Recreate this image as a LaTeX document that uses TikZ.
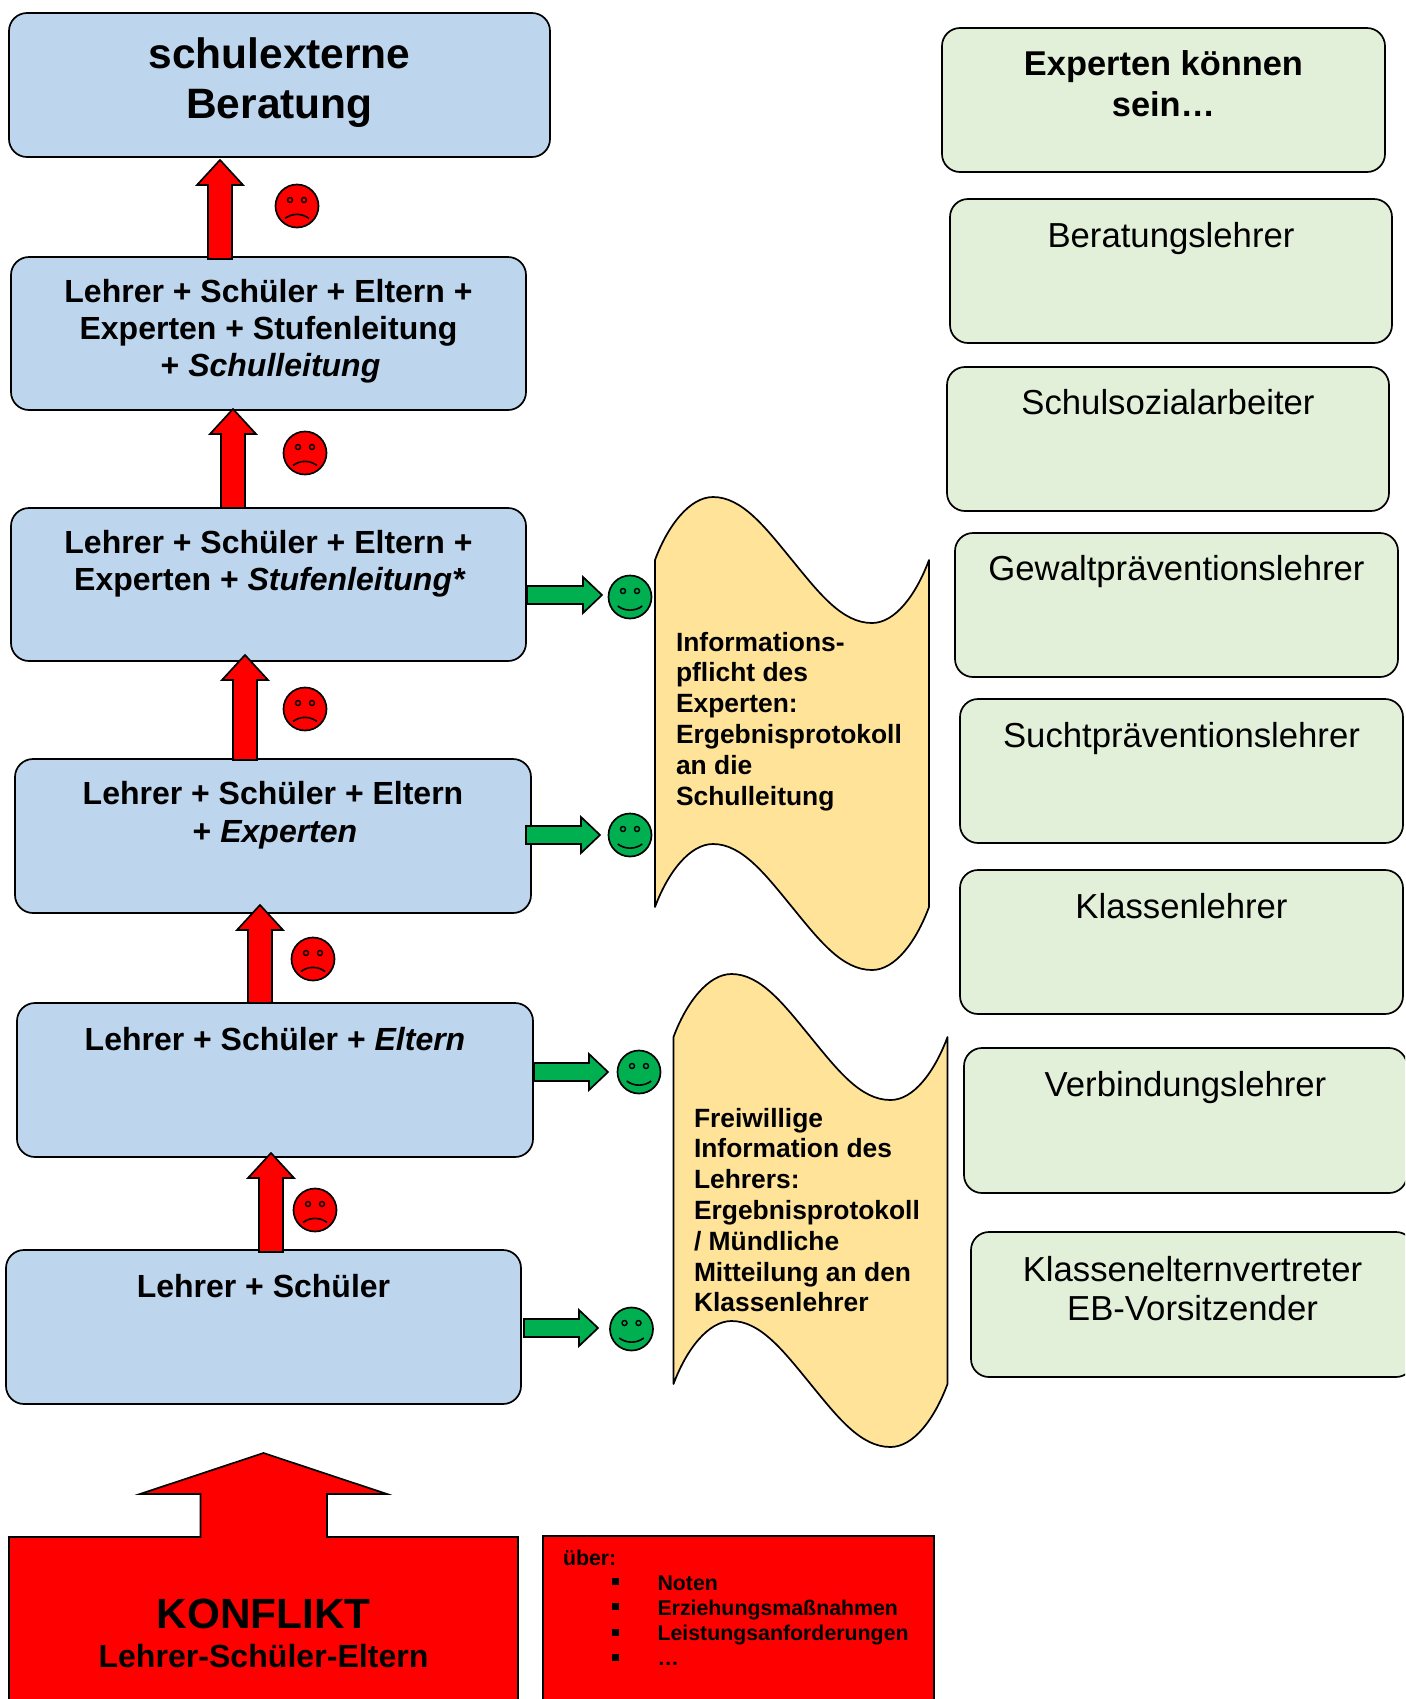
\documentclass[tikz,border=0pt]{standalone}
\usepackage{fontspec}
\setmainfont{Liberation Sans}
\usetikzlibrary{calc}
\definecolor{boxblue}{HTML}{BDD5ED}
\definecolor{boxgreen}{HTML}{E2EFD9}
\definecolor{waveyellow}{HTML}{FFE399}
\definecolor{happygreen}{HTML}{00B050}
\newcommand\pxl[1]{\dimexpr #1pt/2\relax}
% box content: width, height, first baseline from the top, text
\newcommand\bx[4]{\parbox[c][\pxl{#2}][t]{\pxl{#1}}{\centering\rule{0pt}{\pxl{#3}}#4}}
\newcommand\lbx[4]{\parbox[c][\pxl{#2}][t]{\pxl{#1}}{\raggedright\rule{0pt}{\pxl{#3}}#4}}
\newcommand\redup[5]{% from node, to node, x, dy at start, dy at tip
  \coordinate (s) at ($(#3,0 |- #1.north)+(0,#4)$);
  \coordinate (t) at ($(#3,0 |- #2.south)+(0,#5)$);
  \draw[blockred] ($(s)+(-12,0)$) -- ($(t)+(-12,25)$) -- ($(t)+(-23,25)$) -- (t)
     -- ($(t)+(23,25)$) -- ($(t)+(12,25)$) -- ($(s)+(12,0)$) -- cycle;}
\newcommand\greenarr[5]{% from node, smiley, dx at start, dx at tip, dy
  \coordinate (s) at ($(#1.east |- #2.center)+(#3,#5)$);
  \coordinate (t) at ($(#2.west)+(#4,#5)$);
  \draw[blockgreen] ($(s)+(0,-9)$) -- ($(t)+(-19,-9)$) -- ($(t)+(-19,-18)$) -- (t)
     -- ($(t)+(-19,18)$) -- ($(t)+(-19,9)$) -- ($(s)+(0,9)$) -- cycle;}
\newcommand\sad[3]{%
  \node[face,fill=red] (#1) at (#2,#3) {};
  \draw[fill=red,line width=.7pt] ($(#1)+(-7,-6)$) circle[radius=1.25pt] ($(#1)+(7,-6)$) circle[radius=1.25pt];
  \draw[line width=.8pt] ($(#1)+(-12,12.5)$) .. controls ($(#1)+(-5,7)$) and ($(#1)+(5,7)$) .. ($(#1)+(12,12.5)$);}
\newcommand\happy[3]{%
  \node[face,fill=happygreen] (#1) at (#2,#3) {};
  \draw[fill=happygreen,line width=.7pt] ($(#1)+(-7,-6)$) circle[radius=1.25pt] ($(#1)+(7,-6)$) circle[radius=1.25pt];
  \draw[line width=.8pt] ($(#1)+(-12.3,9)$) .. controls ($(#1)+(-5,14.5)$) and ($(#1)+(5,14.5)$) .. ($(#1)+(12.3,9)$);}
\newcommand\wave[2]{% left x, top y at edges
  \draw[wavefill] (#1,#2) .. controls ($(#1,#2)+(13,-35)$) and ($(#1,#2)+(35,-63)$) .. ($(#1,#2)+(58,-63)$)
    .. controls ($(#1,#2)+(87,-63)$) and ($(#1,#2)+(110,-33)$) .. ($(#1,#2)+(137,0)$)
    .. controls ($(#1,#2)+(164,33)$) and ($(#1,#2)+(187,63)$) .. ($(#1,#2)+(217,63)$)
    .. controls ($(#1,#2)+(240,63)$) and ($(#1,#2)+(261,35)$) .. ($(#1,#2)+(274,0)$)
    -- ($(#1,#2)+(274,347)$)
    .. controls ($(#1,#2)+(261,382)$) and ($(#1,#2)+(240,410)$) .. ($(#1,#2)+(217,410)$)
    .. controls ($(#1,#2)+(187,410)$) and ($(#1,#2)+(164,380)$) .. ($(#1,#2)+(137,347)$)
    .. controls ($(#1,#2)+(110,314)$) and ($(#1,#2)+(87,284)$) .. ($(#1,#2)+(58,284)$)
    .. controls ($(#1,#2)+(35,284)$) and ($(#1,#2)+(13,312)$) .. ($(#1,#2)+(0,347)$) -- cycle;}
\tikzset{
  x=.5pt,y=-.5pt,
  every node/.style={inner sep=0pt,outer sep=0pt},
  blue box/.style={draw,line width=.85pt,rounded corners=9pt,fill=boxblue,anchor=north west,
     font=\fontsize{16}{18.8}\selectfont\bfseries},
  green box/.style={draw,line width=.85pt,rounded corners=9pt,fill=boxgreen,anchor=north west,
     font=\fontsize{17.35}{19.5}\selectfont},
  red box/.style={draw,line width=.85pt,fill=red,anchor=north west},
  blockred/.style={draw,line width=.85pt,fill=red},
  blockgreen/.style={draw,line width=.85pt,fill=happygreen},
  face/.style={draw,line width=.85pt,circle,minimum size=21.5pt},
  wavefill/.style={draw,line width=.85pt,fill=waveyellow,line join=round},
  wave text/.style={anchor=north west,font=\fontsize{13.2}{15.4}\selectfont\bfseries},
}
\begin{document}
\begin{tikzpicture}
\useasboundingbox (0,0) rectangle (1405,1699);
\clip (0,0) rectangle (1405,1699);
% left column
\node[blue box] (b1) at (9,13) {\bx{541}{144}{55}{\fontsize{21.25}{25}\selectfont schulexterne\\Beratung}};
\node[blue box] (b2) at (11,257) {\bx{515}{153}{45}{\fontsize{16}{18.5}\selectfont Lehrer + Schüler + Eltern +\\Experten + Stufenleitung\\\hspace*{\pxl{4}}+ \textit{Schulleitung}}};
\node[blue box] (b3) at (11,508) {\bx{515}{153}{45}{Lehrer + Schüler + Eltern +\\\hspace*{\pxl{3}}Experten + \textit{Stufenleitung*}}};
\node[blue box] (b4) at (15,759) {\bx{516}{154}{45}{\fontsize{16}{19.2}\selectfont Lehrer + Schüler + Eltern\\\hspace*{\pxl{4}}+ \textit{Experten}}};
\node[blue box] (b5) at (17,1003) {\bx{516}{154}{47}{Lehrer + Schüler + \textit{Eltern}}};
\node[blue box] (b6) at (6,1250) {\bx{515}{154}{47}{Lehrer + Schüler}};
% right column
\node[green box] (g1) at (942,28) {\bx{443}{144}{47}{\fontsize{17.2}{20.6}\selectfont\bfseries Experten können\\sein…}};
\node[green box] (g2) at (950,199) {\bx{442}{144}{48}{Beratungslehrer}};
\node[green box] (g3) at (947,367) {\bx{442}{144}{47}{Schulsozialarbeiter}};
\node[green box] (g4) at (955,533) {\bx{443}{144}{47}{Gewaltpräventionslehrer}};
\node[green box] (g5) at (960,699) {\bx{443}{144}{48}{Suchtpräventionslehrer}};
\node[green box] (g6) at (960,870) {\bx{443}{144}{48}{Klassenlehrer}};
\node[green box] (g7) at (964,1048) {\bx{443}{145}{48}{Verbindungslehrer}};
\node[green box] (g8) at (971,1232) {\bx{443}{145}{49}{Klassenelternvertreter\\EB-Vorsitzender}};
% red up arrows
\redup{b2}{b1}{220}{2}{3}
\redup{b3}{b2}{233}{0}{-1}
\redup{b4}{b3}{245}{1}{-6}
\redup{b5}{b4}{260}{0}{-8}
\redup{b6}{b5}{271}{2}{-4}
% sad faces
\sad{s1}{297}{206}
\sad{s2}{305}{453}
\sad{s3}{305}{709}
\sad{s4}{313}{959}
\sad{s5}{315}{1210}
% happy faces and green arrows
\happy{h1}{630}{597}
\happy{h2}{630}{835}
\happy{h3}{639}{1072}
\happy{h4}{631.5}{1329}
\greenarr{b3}{h1}{1}{-6.5}{-2}
\greenarr{b4}{h2}{-5}{-8.5}{0}
\greenarr{b5}{h3}{1}{-9.5}{0}
\greenarr{b6}{h4}{3}{-12}{-1}
% call-outs
\wave{655}{560}
\node[wave text] (w1) at (676,622) {\lbx{250}{220}{29}{Informations-\\pflicht des\\Experten:\\Ergebnisprotokoll\\an die\\Schulleitung}};
\wave{673.5}{1037}
\node[wave text] (w2) at (694,1098) {\lbx{250}{220}{29}{Freiwillige\\Information des\\Lehrers:\\Ergebnisprotokoll\\/ Mündliche\\Mitteilung an den\\Klassenlehrer}};
% conflict
\draw[blockred] (9,1710) -- (9,1537) -- (200.5,1537) -- (200.5,1494) -- (140,1494) -- (263.5,1453)
   -- (387,1494) -- (327,1494) -- (327,1537) -- (518,1537) -- (518,1710) -- cycle;
\node[anchor=north west] (k) at (9,1537) {\bx{509}{170}{91}{\bfseries\fontsize{21.15}{19.5}\selectfont KONFLIKT\\\fontsize{16.05}{19.5}\selectfont Lehrer-Schüler-Eltern}};
\node[red box,font=\fontsize{10.66}{12.6}\selectfont\bfseries] (u) at (543,1536) {\lbx{391}{175}{29}{%
  \hspace*{\pxl{20}}über:\\
  \hspace*{\pxl{69}}\rule[\pxl{5}]{\pxl{7}}{\pxl{7}}\hspace*{\pxl{38.5}}Noten\\
  \hspace*{\pxl{69}}\rule[\pxl{5}]{\pxl{7}}{\pxl{7}}\hspace*{\pxl{38.5}}Erziehungsmaßnahmen\\
  \hspace*{\pxl{69}}\rule[\pxl{5}]{\pxl{7}}{\pxl{7}}\hspace*{\pxl{38.5}}Leistungsanforderungen\\
  \hspace*{\pxl{69}}\rule[\pxl{5}]{\pxl{7}}{\pxl{7}}\hspace*{\pxl{38.5}}…}};
\end{tikzpicture}
\end{document}
